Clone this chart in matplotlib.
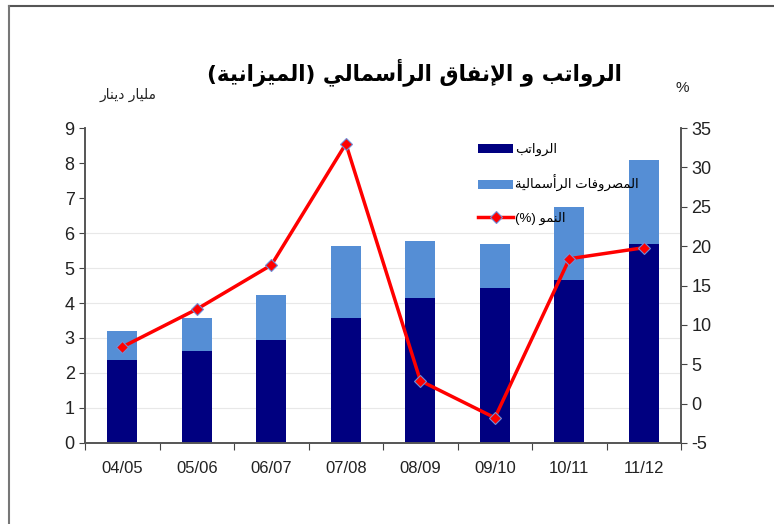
import matplotlib
matplotlib.use('Agg')
import matplotlib.pyplot as plt
from matplotlib.lines import Line2D
import numpy as np

plt.rcParams['font.family'] = ['Liberation Sans', 'DejaVu Sans']
plt.rcParams['axes.unicode_minus'] = False

# chart data
years = ['04/05', '05/06', '06/07', '07/08', '08/09', '09/10', '10/11', '11/12']
salaries = [2.37, 2.63, 2.94, 3.57, 4.14, 4.43, 4.66, 5.69]
capex = [0.83, 0.94, 1.29, 2.06, 1.63, 1.26, 2.08, 2.40]
growth = [7.2, 12.0, 17.6, 33.0, 2.9, -1.8, 18.4, 19.8]

title = 'الرواتب و الإنفاق الرأسمالي (الميزانية)'
left_label = 'مليار دينار'
legend_labels = ['الرواتب', 'المصروفات الرأسمالية', 'النمو (%)']

# --- minimal arabic shaping (matplotlib has no bidi / joining support) ---
FORMS = {
    'ا': (0xFE8D, 0xFE8E, None, None), 'أ': (0xFE83, 0xFE84, None, None),
    'إ': (0xFE87, 0xFE88, None, None), 'آ': (0xFE81, 0xFE82, None, None),
    'ء': (0xFE80, None, None, None), 'ؤ': (0xFE85, 0xFE86, None, None),
    'ئ': (0xFE89, 0xFE8A, 0xFE8B, 0xFE8C), 'ب': (0xFE8F, 0xFE90, 0xFE91, 0xFE92),
    'ة': (0xFE93, 0xFE94, None, None), 'ت': (0xFE95, 0xFE96, 0xFE97, 0xFE98),
    'ث': (0xFE99, 0xFE9A, 0xFE9B, 0xFE9C), 'ج': (0xFE9D, 0xFE9E, 0xFE9F, 0xFEA0),
    'ح': (0xFEA1, 0xFEA2, 0xFEA3, 0xFEA4), 'خ': (0xFEA5, 0xFEA6, 0xFEA7, 0xFEA8),
    'د': (0xFEA9, 0xFEAA, None, None), 'ذ': (0xFEAB, 0xFEAC, None, None),
    'ر': (0xFEAD, 0xFEAE, None, None), 'ز': (0xFEAF, 0xFEB0, None, None),
    'س': (0xFEB1, 0xFEB2, 0xFEB3, 0xFEB4), 'ش': (0xFEB5, 0xFEB6, 0xFEB7, 0xFEB8),
    'ص': (0xFEB9, 0xFEBA, 0xFEBB, 0xFEBC), 'ض': (0xFEBD, 0xFEBE, 0xFEBF, 0xFEC0),
    'ط': (0xFEC1, 0xFEC2, 0xFEC3, 0xFEC4), 'ظ': (0xFEC5, 0xFEC6, 0xFEC7, 0xFEC8),
    'ع': (0xFEC9, 0xFECA, 0xFECB, 0xFECC), 'غ': (0xFECD, 0xFECE, 0xFECF, 0xFED0),
    'ف': (0xFED1, 0xFED2, 0xFED3, 0xFED4), 'ق': (0xFED5, 0xFED6, 0xFED7, 0xFED8),
    'ك': (0xFED9, 0xFEDA, 0xFEDB, 0xFEDC), 'ل': (0xFEDD, 0xFEDE, 0xFEDF, 0xFEE0),
    'م': (0xFEE1, 0xFEE2, 0xFEE3, 0xFEE4), 'ن': (0xFEE5, 0xFEE6, 0xFEE7, 0xFEE8),
    'ه': (0xFEE9, 0xFEEA, 0xFEEB, 0xFEEC), 'و': (0xFEED, 0xFEEE, None, None),
    'ى': (0xFEEF, 0xFEF0, None, None), 'ي': (0xFEF1, 0xFEF2, 0xFEF3, 0xFEF4),
}
LAM_ALEF = {'ا': (0xFEFB, 0xFEFC), 'أ': (0xFEF7, 0xFEF8),
            'إ': (0xFEF9, 0xFEFA), 'آ': (0xFEF5, 0xFEF6)}


def joins_next(c):
    return c in FORMS and FORMS[c][2] is not None


def shape(text):
    chars = list(text)
    out = []
    i = 0
    while i < len(chars):
        c = chars[i]
        prev = chars[i - 1] if i > 0 else ''
        nxt = chars[i + 1] if i + 1 < len(chars) else ''
        if c not in FORMS:
            out.append(c)
            i += 1
            continue
        con_prev = joins_next(prev)
        if c == 'ل' and nxt in LAM_ALEF:
            out.append(chr(LAM_ALEF[nxt][1 if con_prev else 0]))
            i += 2
            continue
        con_next = joins_next(c) and nxt in FORMS
        iso, fin, ini, med = FORMS[c]
        if con_prev and con_next:
            code = med
        elif con_prev:
            code = fin
        elif con_next:
            code = ini
        else:
            code = iso
        out.append(chr(code))
        i += 1
    vis = ''.join(reversed(out))
    return vis.translate(str.maketrans('()', ')('))


x = np.arange(len(years))
fig = plt.figure(figsize=(7.74, 5.24), dpi=100)
ax = fig.add_axes([0.110, 0.1546, 0.770, 0.6011])
ax2 = ax.twinx()

for yv in range(1, 7):
    ax.axhline(yv, color='#e8e8e8', lw=0.8, zorder=0)

ax.bar(x, salaries, width=0.4, color='#000080', label=shape(legend_labels[0]), zorder=2)
ax.bar(x, capex, width=0.4, bottom=salaries, color='#558ED5',
       label=shape(legend_labels[1]), zorder=2)
ax2.plot(x, growth, color='#FF0000', lw=2.5, marker='D', markersize=6,
         markerfacecolor='#FF0000', markeredgecolor='#6F8FD8', markeredgewidth=0.8,
         label=shape(legend_labels[2]))

ax.set_xlim(-0.5, len(years) - 0.5)
ax.set_ylim(0, 9)
ax2.set_ylim(-5, 35)
ax.set_yticks(range(0, 10))
ax2.set_yticks(range(-5, 36, 5))

ax.set_xticks(np.arange(-0.5, len(years), 1.0))
ax.set_xticklabels([])
ax.set_xticks(x, minor=True)
ax.set_xticklabels(years, minor=True)
ax.tick_params(axis='x', which='minor', length=0, pad=13, labelsize=12, labelcolor='#222222')
ax.tick_params(axis='x', which='major', length=5, color='#444444', direction='out')
ax.tick_params(axis='y', length=4, labelsize=13, labelcolor='#222222', color='#444444')
ax2.tick_params(axis='y', length=4, labelsize=13, labelcolor='#222222', color='#444444')

for a in (ax, ax2):
    a.spines['top'].set_visible(False)
    for s in ('left', 'right', 'bottom'):
        a.spines[s].set_color('#555555')
        a.spines[s].set_linewidth(1.2)

h1, l1 = ax.get_legend_handles_labels()
h2, l2 = ax2.get_legend_handles_labels()
leg = ax2.legend(h1 + h2, l1 + l2, loc='upper left', bbox_to_anchor=(0.64, 0.99),
                 frameon=False, fontsize=9.5, handlelength=2.6, labelspacing=1.45,
                 handletextpad=0.2)

fig.text(0.535, 0.862, shape(title), ha='center', va='center', fontsize=15.5,
         fontweight='bold', family='DejaVu Sans')
fig.text(0.165, 0.818, shape(left_label), ha='center', va='center', fontsize=10,
         color='#222222', family='DejaVu Sans')
fig.text(0.882, 0.832, '%', ha='center', va='center', fontsize=11, color='#222222')

# outer frame (top and left edges only visible in the reference)
fig.add_artist(Line2D([0.011, 1.0], [0.988, 0.988], color='#555555', lw=1.5,
                      transform=fig.transFigure))
fig.add_artist(Line2D([0.011, 0.011], [0.0, 0.988], color='#777777', lw=1.5,
                      transform=fig.transFigure))

fig.savefig('out.png', dpi=100)
